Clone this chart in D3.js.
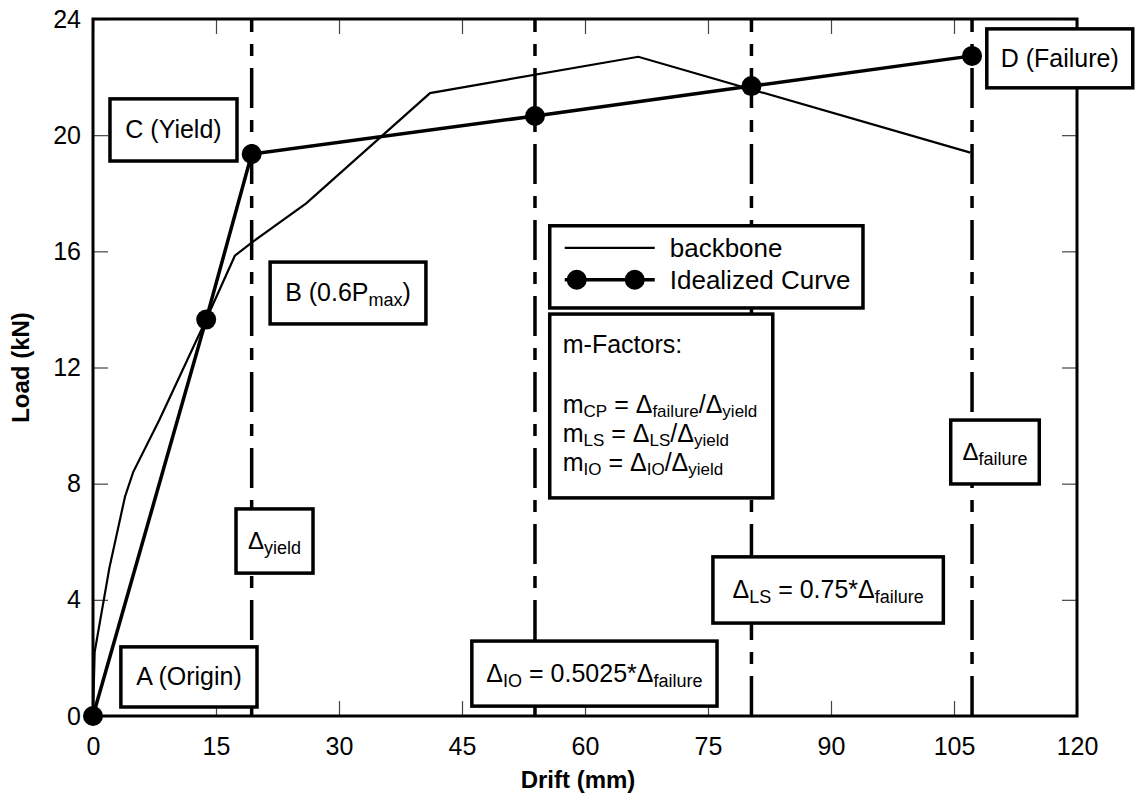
<!DOCTYPE html>
<html>
<head>
<meta charset="utf-8">
<script src="https://cdn.jsdelivr.net/npm/d3@7"></script>
<style>
  body { margin: 0; background: #fff; }
  text { font-family: "Liberation Sans", Arial, sans-serif; fill: #000; }
</style>
</head>
<body>
<script>
// values
var backboneDrift = [0, 0.2, 2.0, 3.9, 4.9, 8.1, 13.8, 17.3, 19.35, 26.0, 41.1, 66.5, 107.0];
var backboneLoad  = [0, 2.2, 5.1, 7.55, 8.4, 10.2, 13.65, 15.85, 16.3, 17.65, 21.45, 22.7, 19.4];

var idealDrift = [0, 13.8, 19.35, 53.9, 80.3, 107.2];
var idealLoad  = [0, 13.65, 19.35, 20.66, 21.69, 22.73];

// yield, IO, LS, failure drifts
var limitDrift = [19.35, 53.9, 80.3, 107.2];

var xTicks = [0, 15, 30, 45, 60, 75, 90, 105, 120];
var yTicks = [0, 4, 8, 12, 16, 20, 24];

var margin = {top: 19, right: 61, bottom: 79, left: 93},
    width = 1138 - margin.left - margin.right,
    height = 795 - margin.top - margin.bottom;

var x = d3.scaleLinear().domain([0, 120]).range([0, width]);
var y = d3.scaleLinear().domain([0, 24]).range([height, 0]);

var svg = d3.select("body").append("svg")
    .attr("width", width + margin.left + margin.right)
    .attr("height", height + margin.top + margin.bottom);

var main = svg.append("g")
    .attr("transform", "translate(" + margin.left + "," + margin.top + ")");

// ticks (pointing inward)
function tickStyle(g) {
  g.select(".domain").remove();
  g.selectAll(".tick line").attr("stroke", "#444").attr("stroke-width", 1.2);
  g.selectAll(".tick text").attr("font-size", 25).attr("font-family", "Liberation Sans, Arial, sans-serif");
}

main.append("g")
    .call(d3.axisLeft(y).tickValues(yTicks).tickSize(-15).tickPadding(12))
    .call(tickStyle);

main.append("g")
    .attr("transform", "translate(" + width + ",0)")
    .call(d3.axisRight(y).tickValues(yTicks).tickSize(-15).tickFormat(""))
    .call(tickStyle);

main.append("g")
    .call(d3.axisTop(x).tickValues(xTicks).tickSize(-15).tickFormat(""))
    .call(tickStyle);

main.append("g")
    .attr("transform", "translate(0," + height + ")")
    .call(d3.axisBottom(x).tickValues(xTicks).tickSize(-15).tickPadding(21))
    .call(tickStyle);

// frame
main.append("rect")
    .attr("width", width)
    .attr("height", height)
    .attr("fill", "none")
    .attr("stroke", "#000")
    .attr("stroke-width", 3);

// axis titles
svg.append("text")
    .attr("x", margin.left + width / 2 - 7)
    .attr("y", 788)
    .attr("text-anchor", "middle")
    .attr("font-size", 24)
    .attr("font-weight", "bold")
    .text("Drift (mm)");

svg.append("text")
    .attr("transform", "translate(29," + (margin.top + height / 2) + ") rotate(-90)")
    .attr("text-anchor", "middle")
    .attr("font-size", 24)
    .attr("font-weight", "bold")
    .text("Load (kN)");

// dash-dot limit lines
main.selectAll(".limit")
    .data(limitDrift)
    .enter().append("line")
    .attr("class", "limit")
    .attr("x1", function(d) { return x(d); })
    .attr("x2", function(d) { return x(d); })
    .attr("y1", height)
    .attr("y2", 0)
    .attr("stroke", "#000")
    .attr("stroke-width", 3.5)
    .attr("stroke-dasharray", "40,12,12,12");

// curves
var backbone = backboneDrift.map(function(d, i) { return [d, backboneLoad[i]]; });
var ideal = idealDrift.map(function(d, i) { return [d, idealLoad[i]]; });

var line = d3.line()
    .x(function(d) { return x(d[0]); })
    .y(function(d) { return y(d[1]); });

main.append("path")
    .datum(backbone)
    .attr("d", line)
    .attr("fill", "none")
    .attr("stroke", "#000")
    .attr("stroke-width", 2.2);

main.append("path")
    .datum(ideal)
    .attr("d", line)
    .attr("fill", "none")
    .attr("stroke", "#000")
    .attr("stroke-width", 3.5);

main.selectAll(".dot")
    .data(ideal)
    .enter().append("circle")
    .attr("class", "dot")
    .attr("cx", function(d) { return x(d[0]); })
    .attr("cy", function(d) { return y(d[1]); })
    .attr("r", 10);

// text with subscripts
function rich(text, parts, size, subSize, shift) {
  var prevSub = false;
  parts.forEach(function(p) {
    var sub = p[1] === 1;
    var ts = text.append("tspan").text(p[0]).attr("font-size", sub ? subSize : size);
    if (sub && !prevSub) ts.attr("dy", shift);
    if (!sub && prevSub) ts.attr("dy", -shift);
    prevSub = sub;
  });
}

// annotation boxes, corners in drift / load units
var boxes = [
  {x0: 2.07, x1: 17.56, y0: 21.25, y1: 19.11, size: 25, sub: 18, parts: [["C (Yield)"]]},
  {x0: 21.6, x1: 40.6, y0: 15.63, y1: 13.5, size: 25, sub: 18, parts: [["B (0.6P"], ["max", 1], [")"]]},
  {x0: 3.4, x1: 20.0, y0: 2.38, y1: 0.31, size: 25, sub: 18, parts: [["A (Origin)"]]},
  {x0: 17.44, x1: 26.83, y0: 7.13, y1: 4.92, size: 24, sub: 18, parts: [["\u0394"], ["yield", 1]]},
  {x0: 46.2, x1: 76.1, y0: 2.58, y1: 0.34, size: 25, sub: 18, parts: [["\u0394"], ["IO", 1], [" = 0.5025*\u0394"], ["failure", 1]]},
  {x0: 75.6, x1: 103.7, y0: 5.48, y1: 3.2, size: 25, sub: 18, parts: [["\u0394"], ["LS", 1], [" = 0.75*\u0394"], ["failure", 1]]},
  {x0: 104.6, x1: 115.4, y0: 10.19, y1: 7.99, size: 24, sub: 18, parts: [["\u0394"], ["failure", 1]]},
  {x0: 109.0, x1: 126.8, y0: 23.66, y1: 21.63, size: 25, sub: 18, parts: [["D (Failure)"]]}
];

boxes.forEach(function(b) {
  var g = main.append("g");
  g.append("rect")
      .attr("x", x(b.x0))
      .attr("y", y(b.y0))
      .attr("width", x(b.x1) - x(b.x0))
      .attr("height", y(b.y1) - y(b.y0))
      .attr("fill", "#fff")
      .attr("stroke", "#000")
      .attr("stroke-width", 3.5);
  var t = g.append("text")
      .attr("x", (x(b.x0) + x(b.x1)) / 2)
      .attr("y", (y(b.y0) + y(b.y1)) / 2 + b.size * 0.33)
      .attr("text-anchor", "middle");
  rich(t, b.parts, b.size, b.sub, 5);
});

// legend
var legendBox = {x0: 55.7, x1: 93.9, y0: 16.88, y1: 14.05};
var lg = main.append("g")
    .attr("transform", "translate(" + x(legendBox.x0) + "," + y(legendBox.y0) + ")");

lg.append("rect")
    .attr("width", x(legendBox.x1) - x(legendBox.x0))
    .attr("height", y(legendBox.y1) - y(legendBox.y0))
    .attr("fill", "#fff")
    .attr("stroke", "#000")
    .attr("stroke-width", 3.5);

lg.append("line")
    .attr("x1", 15).attr("x2", 105).attr("y1", 22).attr("y2", 22)
    .attr("stroke", "#000").attr("stroke-width", 2.2);
lg.append("text").attr("x", 120).attr("y", 31).attr("font-size", 26).text("backbone");

lg.append("line")
    .attr("x1", 15).attr("x2", 105).attr("y1", 54).attr("y2", 54)
    .attr("stroke", "#000").attr("stroke-width", 3.5);
lg.selectAll(".ldot")
    .data([27, 85])
    .enter().append("circle")
    .attr("cx", function(d) { return d; })
    .attr("cy", 54)
    .attr("r", 10);
lg.append("text").attr("x", 120).attr("y", 63).attr("font-size", 26).text("Idealized Curve");

// m-factors box
var mBox = {x0: 55.7, x1: 82.9, y0: 13.84, y1: 7.51};
var mLines = [
  [["m-Factors:"]],
  [["m"], ["CP", 1], [" = \u0394"], ["failure", 1], ["/\u0394"], ["yield", 1]],
  [["m"], ["LS", 1], [" = \u0394"], ["LS", 1], ["/\u0394"], ["yield", 1]],
  [["m"], ["IO", 1], [" = \u0394"], ["IO", 1], ["/\u0394"], ["yield", 1]]
];
var mOffsets = [39, 99, 128, 157];

var mg = main.append("g")
    .attr("transform", "translate(" + x(mBox.x0) + "," + y(mBox.y0) + ")");
mg.append("rect")
    .attr("width", x(mBox.x1) - x(mBox.x0))
    .attr("height", y(mBox.y1) - y(mBox.y0))
    .attr("fill", "#fff")
    .attr("stroke", "#000")
    .attr("stroke-width", 3.5);

mLines.forEach(function(parts, i) {
  var t = mg.append("text").attr("x", 13).attr("y", mOffsets[i]);
  rich(t, parts, 25, 17, 4);
});
</script>
</body>
</html>
